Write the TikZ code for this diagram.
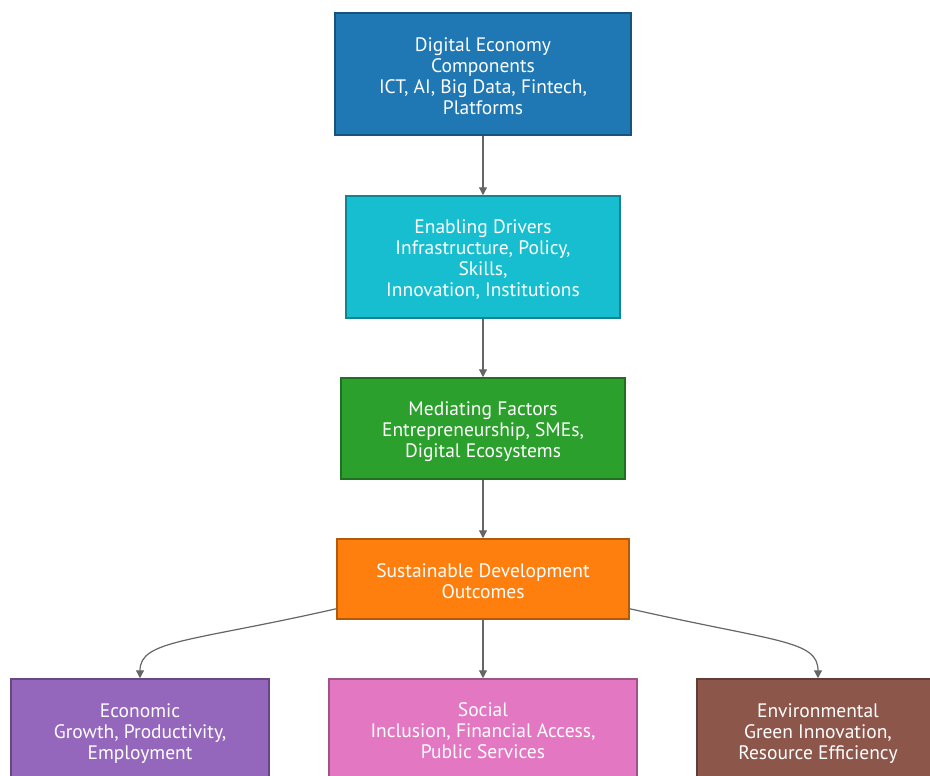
\documentclass[tikz,border=0pt]{standalone}
\usepackage{fontspec}
\setmainfont{PT Sans}
\usetikzlibrary{arrows.meta,calc}
\definecolor{cblue}{HTML}{1F77B4}
\definecolor{ccyan}{HTML}{17BECF}
\definecolor{cgreen}{HTML}{2CA02C}
\definecolor{corange}{HTML}{FF7F0E}
\definecolor{cpurple}{HTML}{9467BD}
\definecolor{cpink}{HTML}{E377C2}
\definecolor{cbrown}{HTML}{8C564B}
\definecolor{cline}{HTML}{666666}
\tikzset{
  box/.style={draw=#1!70!black, fill=#1, line width=1.5pt, inner sep=0pt},
  txt/.style={text=white, align=center, inner sep=0pt,
    font=\fontsize{19.5}{21}\selectfont},
  arr/.style={draw=cline, line width=1.2pt, -{Triangle[length=8pt,width=8pt]}}
}
\begin{document}
\begin{tikzpicture}[x=1pt,y=-1pt]
\useasboundingbox (0,0) rectangle (930,776);
\clip (0,0) rectangle (930,776);
\fill[white] (0,0) rectangle (930,776);
\node[box=cblue, minimum width=296pt, minimum height=122pt] (dec) at (483,74) {};
\node[txt] (decT) at (483,76.5) {Digital Economy\\Components\\ICT, AI, Big Data, Fintech,\\Platforms};
\node[box=ccyan, minimum width=274pt, minimum height=122pt] (drv) at (483,257) {};
\node[txt] (drvT) at (483,259.5) {Enabling Drivers\\Infrastructure, Policy,\\Skills,\\Innovation, Institutions};
\node[box=cgreen, minimum width=284pt, minimum height=101pt] (med) at (483,428.5) {};
\node[txt] (medT) at (483,431.5) {Mediating Factors\\Entrepreneurship, SMEs,\\Digital Ecosystems};
\node[box=corange, minimum width=292pt, minimum height=80pt] (sus) at (483,579) {};
\node[txt] (susT) at (483,581.5) {Sustainable Development\\Outcomes};
\node[box=cpurple, minimum width=258pt, minimum height=104pt] (eco) at (140,731) {};
\node[txt] (ecoT) at (140,733.5) {Economic\\Growth, Productivity,\\Employment};
\node[box=cpink, minimum width=308pt, minimum height=104pt] (soc) at (483,731) {};
\node[txt] (socT) at (483,731) {Social\\Inclusion, Financial Access,\\Public Services};
\node[box=cbrown, minimum width=242pt, minimum height=104pt] (env) at (818,731) {};
\node[txt] (envT) at (818,733.5) {Environmental\\Green Innovation,\\Resource Efficiency};
\draw[arr] (dec.south) -- (drv.north);
\draw[arr] (drv.south) -- (med.north);
\draw[arr] (med.south) -- (sus.north);
\draw[arr] (sus.south) -- (soc.north);
\draw[arr] ($(sus.south west)+(0,-11)$) .. controls (190,642) and (140,640) .. (eco.north);
\draw[arr] ($(sus.south east)+(0,-11)$) .. controls (776,642) and (818,640) .. (env.north);
\end{tikzpicture}
\end{document}
